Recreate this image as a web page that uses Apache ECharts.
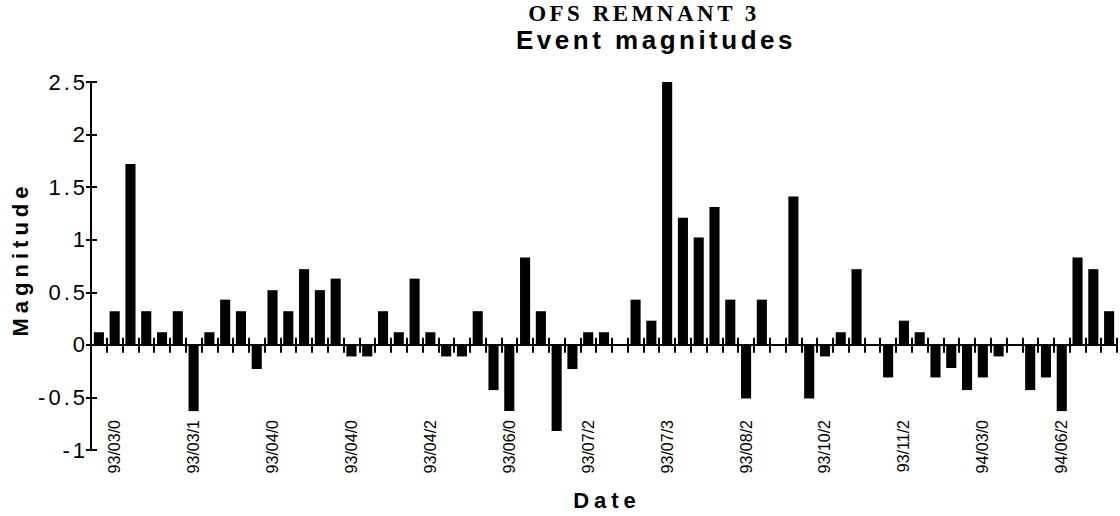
<!DOCTYPE html>
<html>
<head>
<meta charset="utf-8">
<script src="https://cdn.jsdelivr.net/npm/echarts@6/dist/echarts.min.js"></script>
<style>
  html, body { margin: 0; padding: 0; background: #fff; }
  #chart { width: 1120px; height: 516px; }
</style>
</head>
<body>
<div id="chart"></div>
<script>
// Dates printed under every fifth event (as they appear on the axis)
const tickLabels = [
  '93/03/0', '93/03/1', '93/04/0', '93/04/0', '93/04/2', '93/06/0', '93/07/2',
  '93/07/3', '93/08/2', '93/10/2', '93/11/2', '94/03/0', '94/06/2'
];
const firstLabelIndex = 1;
const labelStep = 5;

// Magnitude of each recorded event, in order
const magnitudes = [
  0.12, 0.32, 1.72, 0.32, 0.12, 0.32, -0.63, 0.12, 0.43, 0.32,
  -0.23, 0.52, 0.32, 0.72, 0.52, 0.63, -0.11, -0.11, 0.32, 0.12,
  0.63, 0.12, -0.11, -0.11, 0.32, -0.43, -0.63, 0.83, 0.32, -0.82,
  -0.23, 0.12, 0.12, 0, 0.43, 0.23, 2.5, 1.21, 1.02, 1.31,
  0.43, -0.51, 0.43, 0, 1.41, -0.51, -0.11, 0.12, 0.72, 0,
  -0.31, 0.23, 0.12, -0.31, -0.22, -0.43, -0.31, -0.11, 0, -0.43,
  -0.31, -0.63, 0.83, 0.72, 0.32
];

// Event numbers used as the category keys
const categories = magnitudes.map((_, i) => String(i + 1));

const showLabel = (i) => i >= firstLabelIndex && (i - firstLabelIndex) % labelStep === 0;

const SANS = 'Liberation Sans';
const SERIF = 'Liberation Serif';
const BLACK = '#000';

const chart = echarts.init(document.getElementById('chart'), null, { renderer: 'svg' });

// Wide tracking on titles, axis names and value labels
const spacingByText = { 'OFS REMNANT 3': 3.5, 'Event magnitudes': 3.5, 'Magnitude': 5, 'Date': 5 };
const valueLabelSpacing = 3;
chart.on('rendered', () => {
  chart.getDom().querySelectorAll('svg text').forEach((t) => {
    const txt = t.textContent.trim();
    let s = spacingByText[txt];
    if (s == null && /^-?\d+(\.\d+)?$/.test(txt)) s = valueLabelSpacing;
    if (s && t.style.letterSpacing !== s + 'px') t.style.letterSpacing = s + 'px';
  });
});

const tickLine = { color: BLACK, width: 2 };
const nameStyle = { fontFamily: SANS, fontWeight: 'bold', fontSize: 22, color: BLACK };

chart.setOption({
  animation: false,
  backgroundColor: '#fff',
  title: [
    {
      text: 'OFS REMNANT 3',
      left: 644, top: 2, padding: 0, textAlign: 'center',
      textStyle: { fontFamily: SERIF, fontWeight: 'bold', fontSize: 23, color: BLACK }
    },
    {
      text: 'Event magnitudes',
      left: 656, top: 27, padding: 0, textAlign: 'center',
      textStyle: { fontFamily: SANS, fontWeight: 'bold', fontSize: 26, color: BLACK }
    }
  ],
  grid: { left: 91, right: 3, top: 82, bottom: 66, containLabel: false },
  xAxis: [
    {
      // date labels along the bottom edge
      type: 'category', data: categories, position: 'bottom',
      axisLine: { show: false, onZero: false },
      axisTick: { show: false },
      splitLine: { show: false },
      axisLabel: {
        interval: (i) => showLabel(i),
        formatter: (v, i) => tickLabels[(i - firstLabelIndex) / labelStep] || '',
        rotate: 90, margin: -30, fontSize: 16, fontFamily: SANS, color: BLACK
      },
      name: 'Date', nameLocation: 'middle', nameGap: 39,
      nameTextStyle: Object.assign({ padding: [0, 0, 0, 6] }, nameStyle)
    },
    {
      // zero line with downward ticks
      type: 'category', data: categories, position: 'bottom',
      axisLine: { show: true, onZero: true, lineStyle: { color: BLACK, width: 2 } },
      axisTick: { show: true, interval: 0, length: 8, lineStyle: tickLine },
      axisLabel: { show: false },
      splitLine: { show: false }
    },
    {
      // upward half of the zero-line ticks
      type: 'category', data: categories, position: 'bottom',
      axisLine: { show: false, onZero: true },
      axisTick: { show: true, inside: true, interval: 0, length: 7, lineStyle: tickLine },
      axisLabel: { show: false },
      splitLine: { show: false }
    }
  ],
  yAxis: [
    {
      type: 'value', min: -1, max: 2.5, interval: 0.5, position: 'left',
      axisLine: { show: true, lineStyle: { color: BLACK, width: 2 } },
      axisTick: { show: true, length: 5, lineStyle: tickLine },
      splitLine: { show: false },
      axisLabel: { fontSize: 22, fontFamily: SANS, color: BLACK, margin: 3 },
      name: 'Magnitude', nameLocation: 'middle', nameGap: 60, nameRotate: 90,
      nameTextStyle: Object.assign({ padding: [0, 0, 0, 14] }, nameStyle)
    },
    {
      type: 'value', min: -1, max: 2.5, interval: 0.5, position: 'left',
      axisLine: { show: false },
      axisTick: { show: true, inside: true, length: 6, lineStyle: tickLine },
      axisLabel: { show: false },
      splitLine: { show: false }
    }
  ],
  series: [
    {
      type: 'bar',
      xAxisIndex: 0, yAxisIndex: 0,
      data: magnitudes,
      barCategoryGap: '36%',
      itemStyle: { color: BLACK },
      emphasis: { disabled: true }
    }
  ]
});
</script>
</body>
</html>
